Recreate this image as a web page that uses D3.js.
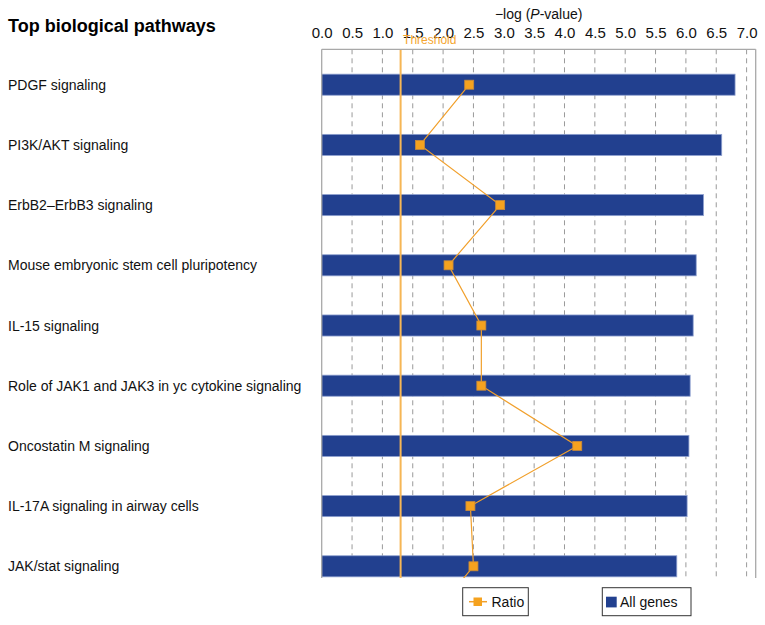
<!DOCTYPE html>
<html>
<head>
<meta charset="utf-8">
<script src="https://cdn.jsdelivr.net/npm/d3@7/dist/d3.min.js"></script>
<style>
  html, body { margin: 0; padding: 0; background: #fff; }
  svg { display: block; font-family: Arial, "Liberation Sans", sans-serif; }
</style>
</head>
<body>
<svg id="chart" width="765" height="625"></svg>
<script>
// ---- data ----
const categories = [
  "PDGF signaling",
  "PI3K/AKT signaling",
  "ErbB2\u2013ErbB3 signaling",
  "Mouse embryonic stem cell pluripotency",
  "IL-15 signaling",
  "Role of JAK1 and JAK3 in yc cytokine signaling",
  "Oncostatin M signaling",
  "IL-17A signaling in airway cells",
  "JAK/stat signaling"
];
const allGenes = [6.81, 6.59, 6.29, 6.17, 6.12, 6.07, 6.05, 6.02, 5.85];
// ratio series (last value belongs to a row cut off below the visible plot)
const ratio = [2.43, 1.62, 2.94, 2.09, 2.63, 2.63, 4.21, 2.45, 2.50, 1.68];
const xTicks = [0, 0.5, 1, 1.5, 2, 2.5, 3, 3.5, 4, 4.5, 5, 5.5, 6, 6.5, 7];
const threshold = 1.3;
const title = "Top biological pathways";
const axisTitle = ["\u2212log (", "P", "-value)"];
const legendLabels = ["Ratio", "All genes"];

// ---- layout ----
const svg = d3.select("#chart");
const plotLeft = 321.7, plotRight = 755.7, plotTop = 49.3, plotBottom = 578;
const x = d3.scaleLinear().domain([0, 7.15]).range([plotLeft, plotRight]);
const rowStart = 54.6, rowStep = 60.2;
const y = d3.scaleBand()
  .domain(d3.range(ratio.length))
  .range([rowStart, rowStart + rowStep * ratio.length])
  .paddingInner(0.65).paddingOuter(0.325);

// clip
svg.append("defs").append("clipPath").attr("id", "plotclip")
  .append("rect").attr("x", plotLeft - 10).attr("y", plotTop)
  .attr("width", plotRight - plotLeft + 20).attr("height", plotBottom - plotTop);

// title
svg.append("text").attr("x", 8).attr("y", 32)
  .attr("font-size", 18).attr("font-weight", "bold").attr("fill", "#000")
  .text(title);

// axis title
const at = svg.append("text").attr("x", (plotLeft + plotRight) / 2).attr("y", 19)
  .attr("text-anchor", "middle").attr("font-size", 14).attr("fill", "#111");
at.append("tspan").text(axisTitle[0]);
at.append("tspan").attr("font-style", "italic").text(axisTitle[1]);
at.append("tspan").text(axisTitle[2]);

// top axis tick labels
const axis = d3.axisTop(x).tickValues(xTicks).tickSize(0).tickPadding(0)
  .tickFormat(d3.format(".1f"));
const gAxis = svg.append("g").attr("transform", `translate(0,${38})`).call(axis);
gAxis.select(".domain").remove();
gAxis.selectAll("text").attr("font-size", 15).attr("fill", "#111")
  .attr("font-family", "Arial, 'Liberation Sans', sans-serif").attr("dy", 0);

const plot = svg.append("g").attr("clip-path", "url(#plotclip)");

// dashed gridlines
plot.append("g").selectAll("line").data(xTicks.filter(d => d > 0)).join("line")
  .attr("x1", d => x(d)).attr("x2", d => x(d))
  .attr("y1", plotTop).attr("y2", plotBottom)
  .attr("stroke", "#9a9a9a").attr("stroke-width", 1)
  .attr("stroke-dasharray", "5,4");

// frame
const frameColor = "#a8a8a8";
svg.append("line").attr("x1", x(0)).attr("x2", plotRight).attr("y1", plotTop).attr("y2", plotTop)
  .attr("stroke", frameColor).attr("stroke-width", 1.3);
svg.append("line").attr("x1", x(0)).attr("x2", x(0)).attr("y1", plotTop).attr("y2", plotBottom)
  .attr("stroke", frameColor).attr("stroke-width", 1.3);
svg.append("line").attr("x1", plotRight).attr("x2", plotRight).attr("y1", plotTop).attr("y2", plotBottom)
  .attr("stroke", frameColor).attr("stroke-width", 1.3);

// bars
plot.append("g").selectAll("rect").data(allGenes).join("rect")
  .attr("x", x(0)).attr("y", (d, i) => y(i))
  .attr("width", d => x(d) - x(0)).attr("height", y.bandwidth())
  .attr("fill", "#22408f").attr("stroke", "#8ea0cf").attr("stroke-width", 0.8);

// threshold
plot.append("line").attr("x1", x(threshold)).attr("x2", x(threshold))
  .attr("y1", plotTop).attr("y2", plotBottom)
  .attr("stroke", "#f6b655").attr("stroke-width", 2);
svg.append("text").attr("x", x(threshold) + 2.5).attr("y", 44)
  .attr("font-size", 12).attr("fill", "#f5a630").text("Threshold");

// ratio line
const line = d3.line().x(d => x(d)).y((d, i) => y(i) + y.bandwidth() / 2);
plot.append("path").datum(ratio).attr("d", line)
  .attr("fill", "none").attr("stroke", "#f1a02c").attr("stroke-width", 1.2);
plot.append("g").selectAll("rect").data(ratio).join("rect")
  .attr("x", d => x(d) - 4.5).attr("y", (d, i) => y(i) + y.bandwidth() / 2 - 4.5)
  .attr("width", 9).attr("height", 9)
  .attr("fill", "#f5a21f").attr("stroke", "#c98a3a").attr("stroke-width", 0.8);

// category labels
svg.append("g").selectAll("text").data(categories).join("text")
  .attr("x", 8).attr("y", (d, i) => y(i) + y.bandwidth() / 2 + 5)
  .attr("font-size", 14).attr("fill", "#111").text(d => d);

// legend
const lg = svg.append("g");
lg.append("rect").attr("x", 462.7).attr("y", 587.7).attr("width", 65.6).attr("height", 28)
  .attr("fill", "#fff").attr("stroke", "#333").attr("stroke-width", 1);
lg.append("line").attr("x1", 469).attr("x2", 487).attr("y1", 601.7).attr("y2", 601.7)
  .attr("stroke", "#f1a02c").attr("stroke-width", 1.5);
lg.append("rect").attr("x", 473.5).attr("y", 597.5).attr("width", 8.5).attr("height", 8.5)
  .attr("fill", "#f5a21f");
lg.append("text").attr("x", 491.5).attr("y", 607).attr("font-size", 14).attr("fill", "#111")
  .text(legendLabels[0]);

lg.append("rect").attr("x", 602.3).attr("y", 587.7).attr("width", 88.7).attr("height", 28)
  .attr("fill", "#fff").attr("stroke", "#333").attr("stroke-width", 1);
lg.append("rect").attr("x", 606).attr("y", 596.7).attr("width", 10.7).attr("height", 10.7)
  .attr("fill", "#22408f");
lg.append("text").attr("x", 620).attr("y", 607).attr("font-size", 14).attr("fill", "#111")
  .text(legendLabels[1]);
</script>
</body>
</html>
